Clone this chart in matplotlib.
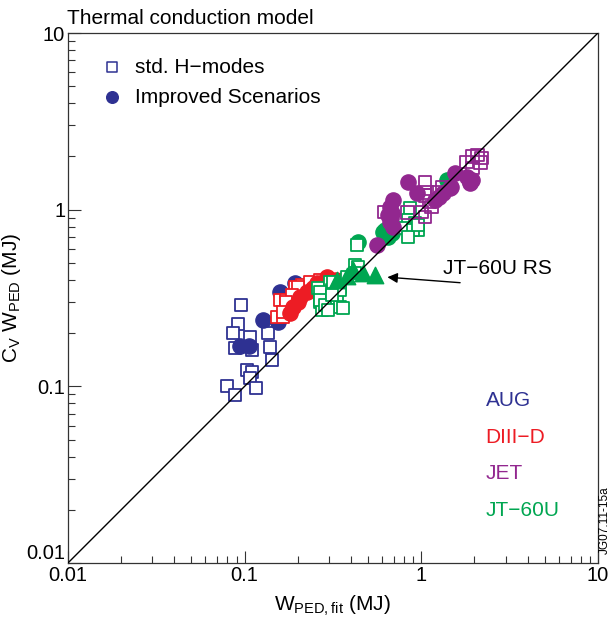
import matplotlib
matplotlib.use("Agg")
import matplotlib.pyplot as plt
from matplotlib import ticker

plt.rcParams['font.family'] = ['Liberation Sans', 'DejaVu Sans']
plt.rcParams['mathtext.fontset'] = 'custom'
plt.rcParams['mathtext.rm'] = 'Liberation Sans'

# colours of the machines
c_aug = '#2E3192'
c_d3d = '#ED1C24'
c_jet = '#92278F'
c_jt = '#00A651'

# AUG
aug_sq_x = [0.095, 0.092, 0.086, 0.107, 0.135, 0.088, 0.110, 0.139, 0.143, 0.103, 0.110, 0.107, 0.080, 0.088, 0.116]
aug_sq_y = [0.29, 0.225, 0.20, 0.19, 0.20, 0.165, 0.16, 0.168, 0.141, 0.124, 0.121, 0.112, 0.100, 0.089, 0.098]
aug_ci_x = [0.094, 0.106, 0.127, 0.158, 0.154, 0.193]
aug_ci_y = [0.17, 0.17, 0.237, 0.34, 0.23, 0.385]

# DIII-D
d3d_sq_x = [0.158, 0.172, 0.152, 0.165, 0.193, 0.211, 0.234, 0.267, 0.200, 0.185, 0.171, 0.165]
d3d_sq_y = [0.308, 0.308, 0.247, 0.247, 0.365, 0.375, 0.392, 0.40, 0.365, 0.33, 0.30, 0.264]
d3d_ci_x = [0.188, 0.206, 0.225, 0.257, 0.292, 0.180, 0.267, 0.243, 0.31, 0.20, 0.33]
d3d_ci_y = [0.282, 0.32, 0.342, 0.385, 0.416, 0.259, 0.361, 0.36, 0.40, 0.30, 0.40]

# JT-60U
jt_sq_x = [0.26, 0.267, 0.274, 0.304, 0.312, 0.346, 0.379, 0.421, 0.433, 0.267, 0.267, 0.285,
           0.333, 0.346, 0.296, 0.359, 0.438, 0.421, 0.316, 0.346, 0.312,
           0.862, 0.84, 0.916, 0.956, 0.808, 0.896, 0.84, 0.96]
jt_sq_y = [0.361, 0.30, 0.271, 0.392, 0.351, 0.365, 0.416, 0.486, 0.632, 0.342, 0.308, 0.289,
           0.318, 0.282, 0.271, 0.278, 0.474, 0.437, 0.392, 0.351, 0.33,
           1.02, 0.874, 0.84, 0.768, 0.788, 0.768, 0.70, 0.82]
jt_ci_x = [0.438, 0.606, 0.622, 0.646, 0.682, 1.40, 1.88]
jt_ci_y = [0.66, 0.75, 0.768, 0.70, 0.738, 1.47, 1.43]
jt_rs_x = [0.333, 0.379, 0.41, 0.467, 0.546]
jt_rs_y = [0.40, 0.42, 0.456, 0.437, 0.425]

# JET
jet_sq_x = [1.96, 2.09, 2.17, 1.96, 1.81, 1.05, 1.076, 1.11, 1.14, 1.233, 1.325, 1.008, 1.05, 0.84, 2.2, 1.05, 0.62]
jet_sq_y = [1.99, 2.04, 1.84, 1.72, 1.86, 1.43, 1.245, 1.11, 1.036, 1.245, 1.33, 0.97, 0.91, 0.96, 1.96, 1.2, 0.97]
jet_ci_x = [0.84, 0.944, 0.691, 0.664, 0.646, 0.664, 0.691, 0.561, 1.325, 1.45, 1.55, 1.81, 1.88, 1.19, 1.26, 1.48, 1.93, 0.68, 0.67]
jet_ci_y = [1.43, 1.25, 1.135, 1.036, 0.93, 0.85, 0.80, 0.632, 1.25, 1.33, 1.61, 1.53, 1.42, 1.135, 1.18, 1.34, 1.47, 0.96, 0.90]

fig = plt.figure(figsize=(6.12, 6.17), dpi=100)
ax = fig.add_axes([0.111, 0.0875, 0.866, 0.859])

sq_size = 85
ci_size = 120
lw = 1.3

ax.scatter(aug_sq_x, aug_sq_y, s=sq_size, marker='s', facecolors='white', edgecolors=c_aug, linewidths=lw, zorder=2)
ax.scatter(aug_ci_x, aug_ci_y, s=ci_size, color=c_aug, zorder=2)
ax.scatter(d3d_sq_x, d3d_sq_y, s=sq_size, marker='s', facecolors='white', edgecolors=c_d3d, linewidths=lw, zorder=3)
ax.scatter(d3d_ci_x, d3d_ci_y, s=ci_size, color=c_d3d, zorder=3)
ax.scatter(jt_ci_x, jt_ci_y, s=ci_size, color=c_jt, zorder=4)
ax.scatter(jt_sq_x, jt_sq_y, s=sq_size, marker='s', facecolors='white', edgecolors=c_jt, linewidths=lw, zorder=4)
ax.scatter(jt_rs_x, jt_rs_y, s=140, marker='^', color=c_jt, zorder=4)
ax.scatter(jet_ci_x, jet_ci_y, s=ci_size, color=c_jet, zorder=5)
ax.scatter(jet_sq_x, jet_sq_y, s=sq_size, marker='s', facecolors='none', edgecolors=c_jet, linewidths=lw, zorder=5)

ax.plot([0.01, 10], [0.01, 10], color='black', lw=1, zorder=6)

ax.set_xscale('log')
ax.set_yscale('log')
ax.set_xlim(0.01, 10)
ax.set_ylim(0.01, 10)
ax.set_xticks([0.01, 0.1, 1, 10])
ax.set_yticks([0.01, 0.1, 1, 10])
fmt = ticker.FuncFormatter(lambda v, p: '%g' % v)
ax.xaxis.set_major_formatter(fmt)
ax.yaxis.set_major_formatter(fmt)
ax.xaxis.set_minor_formatter(ticker.NullFormatter())
ax.yaxis.set_minor_formatter(ticker.NullFormatter())
ax.tick_params(which='both', direction='in', top=False, right=False, labelsize=14.5, width=0.8, color='#333333')
ax.tick_params(which='major', length=9, pad=2)
ax.tick_params(which='minor', length=5)
for sp in ax.spines.values():
    sp.set_linewidth(0.9)
    sp.set_color('#333333')

ax.set_xlabel(r'W$_{\mathrm{PED,fit}}$ (MJ)', fontsize=15, labelpad=6)
ax.set_ylabel(r'C$_{\mathrm{V}}$ W$_{\mathrm{PED}}$ (MJ)', fontsize=15)
ax.yaxis.set_label_coords(-0.085, 0.5)
ax.text(-0.002, 1.01, 'Thermal conduction model', transform=ax.transAxes, fontsize=15, ha='left', va='bottom')

# legend, placed like in the figure
ax.scatter([0.0177], [6.42], s=45, marker='s', facecolors='white', edgecolors=c_aug, linewidths=1.1)
ax.scatter([0.0177], [4.34], s=70, color=c_aug)
ax.text(0.0239, 6.42, 'std. H\u2212modes', fontsize=15, va='center')
ax.text(0.0239, 4.34, 'Improved Scenarios', fontsize=15, va='center')

# machine labels
ax.text(0.788, 0.3075, 'AUG', transform=ax.transAxes, color=c_aug, fontsize=15, va='center')
ax.text(0.788, 0.2377, 'DIII\u2212D', transform=ax.transAxes, color=c_d3d, fontsize=15, va='center')
ax.text(0.788, 0.168, 'JET', transform=ax.transAxes, color=c_jet, fontsize=15, va='center')
ax.text(0.788, 0.100, 'JT\u221260U', transform=ax.transAxes, color=c_jt, fontsize=15, va='center')

ax.annotate('', xy=(0.62, 0.416), xytext=(1.72, 0.385),
            arrowprops=dict(arrowstyle='-|>', color='black', lw=1, mutation_scale=15))
ax.text(1.325, 0.467, 'JT\u221260U RS', fontsize=15, va='center')

fig.text(0.988, 0.157, 'JG07.11-15a', rotation=90, fontsize=8.5, ha='center', va='center')

# the lowest y label sits just above the corner
ax.yaxis.get_major_ticks()[0].label1.set_va('bottom')

fig.savefig('out.png', dpi=100)
